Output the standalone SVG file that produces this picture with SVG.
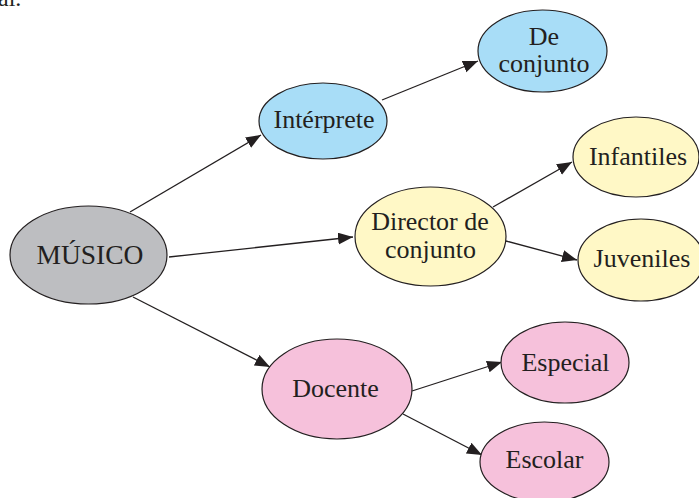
<svg xmlns="http://www.w3.org/2000/svg" width="699" height="498" viewBox="0 0 699 498">
<style>
.n{stroke:#231f20;stroke-width:1.2}
.g{fill:#bdbec1}
.b{fill:#a8ddf7}
.y{fill:#fff8c6}
.p{fill:#f6c1db}
text{font-family:"Liberation Serif","Times New Roman",serif;font-size:26px;fill:#231f20;text-anchor:middle}
.c line{stroke:#231f20;stroke-width:1.3;marker-end:url(#ah)}
</style>
<defs>
<marker id="ah" markerUnits="userSpaceOnUse" markerWidth="16" markerHeight="13" refX="15" refY="6" orient="auto">
<path d="M0,0 L15,6 L0,12 z" fill="#231f20"/>
</marker>
</defs>
<rect width="699" height="498" fill="#ffffff"/>
<text x="-2" y="6" style="text-anchor:start;font-size:24px">al.</text>
<g class="c" id="connectors">
<line x1="130" y1="212" x2="261" y2="135"/>
<line x1="169" y1="257" x2="353" y2="237"/>
<line x1="133" y1="297" x2="270" y2="367"/>
<line x1="382" y1="100" x2="478" y2="61"/>
<line x1="493" y1="207" x2="572" y2="162"/>
<line x1="506" y1="241" x2="577" y2="260"/>
<line x1="412" y1="391" x2="502" y2="362"/>
<line x1="403" y1="414" x2="482" y2="455"/>
</g>
<g id="musico"><ellipse class="n g" cx="88.5" cy="255" rx="78.5" ry="49"/><text x="90" y="264" style="font-size:27.5px">MÚSICO</text></g>
<g id="interprete"><ellipse class="n b" cx="323" cy="121" rx="64" ry="38"/><text x="324" y="128">Intérprete</text></g>
<g id="deconjunto"><ellipse class="n b" cx="542.5" cy="51" rx="64.5" ry="41"/><text x="544" y="45">De</text><text x="544" y="72">conjunto</text></g>
<g id="director"><ellipse class="n y" cx="430.5" cy="236.5" rx="75.5" ry="49.5"/><text x="430" y="230">Director de</text><text x="430.5" y="257.5">conjunto</text></g>
<g id="infantiles"><ellipse class="n y" cx="636" cy="157" rx="63" ry="40"/><text x="638" y="165">Infantiles</text></g>
<g id="juveniles"><ellipse class="n y" cx="641" cy="260" rx="63" ry="41"/><text x="642" y="267">Juveniles</text></g>
<g id="docente"><ellipse class="n p" cx="337" cy="389" rx="75" ry="50"/><text x="335.5" y="397">Docente</text></g>
<g id="especial"><ellipse class="n p" cx="565" cy="362.5" rx="64" ry="40.5"/><text x="565.5" y="370.5">Especial</text></g>
<g id="escolar"><ellipse class="n p" cx="544.5" cy="462" rx="64.5" ry="40"/><text x="544.5" y="468">Escolar</text></g>
</svg>
